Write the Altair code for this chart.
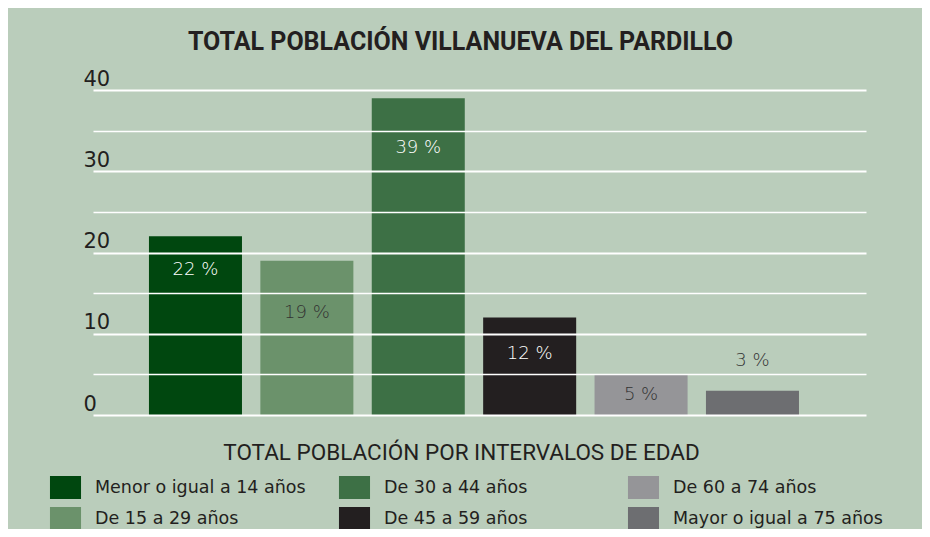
import altair as alt
import pandas as pd

# ---- data ----
grupos = [
    "Menor o igual a 14 años",
    "De 15 a 29 años",
    "De 30 a 44 años",
    "De 45 a 59 años",
    "De 60 a 74 años",
    "Mayor o igual a 75 años",
]
porcentajes = [22, 19, 39, 12, 5, 3]
# height (in axis units) at which each percentage label is written
label_level = [17.9, 12.6, 32.9, 7.5, 2.5, 6.6]
colores = ["#00470f", "#6b926b", "#3d7045", "#231f20", "#959598", "#6d6e71"]
grupos_texto_claro = ["Menor o igual a 14 años", "De 30 a 44 años", "De 45 a 59 años"]

titulo = "TOTAL POBLACIÓN VILLANUEVA DEL PARDILLO"
titulo_x = "TOTAL POBLACIÓN POR INTERVALOS DE EDAD"

df = pd.DataFrame({
    "grupo": grupos,
    "pct": porcentajes,
    "nivel": label_level,
    "etiqueta": [f"{v} %" for v in porcentajes],
})

# legend order: filled row by row so it reads column by column like the original
orden_leyenda = [grupos[0], grupos[2], grupos[4], grupos[1], grupos[3], grupos[5]]
rango_leyenda = [colores[grupos.index(g)] for g in orden_leyenda]

x_enc = alt.X(
    "grupo:N",
    sort=grupos,
    scale=alt.Scale(paddingInner=0.165, paddingOuter=0.552, align=0.455),
    axis=alt.Axis(
        labels=False, ticks=False, domain=False, grid=False,
        title=titulo_x, titleFont="Roboto", titleFontSize=22.5,
        titleFontWeight="normal", titleColor="#231f20",
        titlePadding=26, titleX=368, titleAlign="center",
    ),
)

y_scale = alt.Scale(domain=[0, 40], nice=False, zero=True)

bars = alt.Chart(df).mark_bar().encode(
    x=x_enc,
    y=alt.Y(
        "pct:Q",
        scale=y_scale,
        axis=alt.Axis(
            values=list(range(0, 45, 5)),
            title=None,
            grid=True, gridColor="white", gridOpacity=1,
            gridWidth={"condition": {"test": "datum.value % 10 === 0", "value": 2}, "value": 1.3},
            domain=False, ticks=False, tickSize=0,
            labelAlign="left", labelPadding=10, labelBaseline="alphabetic",
            labelOffset=-5, labelFont="DejaVu Sans", labelFontSize=21,
            labelColor="#231f20", labelOverlap=False, labelFlush=False,
            labelExpr="datum.value % 10 === 0 ? datum.label : ''",
            zindex=1,
        ),
    ),
    color=alt.Color(
        "grupo:N",
        scale=alt.Scale(domain=orden_leyenda, range=rango_leyenda),
        legend=alt.Legend(
            title=None, orient="none", legendX=-39, legendY=386,
            direction="horizontal", columns=3, gridAlign="all",
            columnPadding=32, rowPadding=8, padding=0, offset=0,
            symbolType="M-1.35,-1H1.35V1H-1.35Z", symbolSize=529,
            symbolStrokeWidth=0, symbolOpacity=1,
            labelFont="DejaVu Sans", labelFontSize=17.5, labelColor="#231f20",
            labelOffset=18, labelLimit=400,
        ),
    ),
)

labels = alt.Chart(df).mark_text(
    font="DejaVu Sans", fontSize=18, fontWeight=300, baseline="middle", align="center"
).encode(
    x=alt.X("grupo:N", sort=grupos),
    y=alt.Y("nivel:Q", scale=y_scale),
    text="etiqueta:N",
    fill=alt.condition(
        alt.FieldOneOfPredicate(field="grupo", oneOf=grupos_texto_claro),
        alt.value("white"),
        alt.value("#333333"),
    ),
)

chart = alt.layer(bars, labels).properties(
    width=773,
    height=325,
    autosize=alt.AutoSizeParams(type="none"),
    padding={"left": 85, "top": 82, "right": 56, "bottom": 114},
    title=alt.TitleParams(
        titulo, font="Roboto", fontSize=25, fontWeight="bold", color="#231f20",
        anchor="middle", dx=-19, offset=13,
    ),
).configure(
    background="#bacdbb",
).configure_view(
    stroke=None,
)

chart.save("out.html", embed_options={"renderer": "svg", "actions": False})
